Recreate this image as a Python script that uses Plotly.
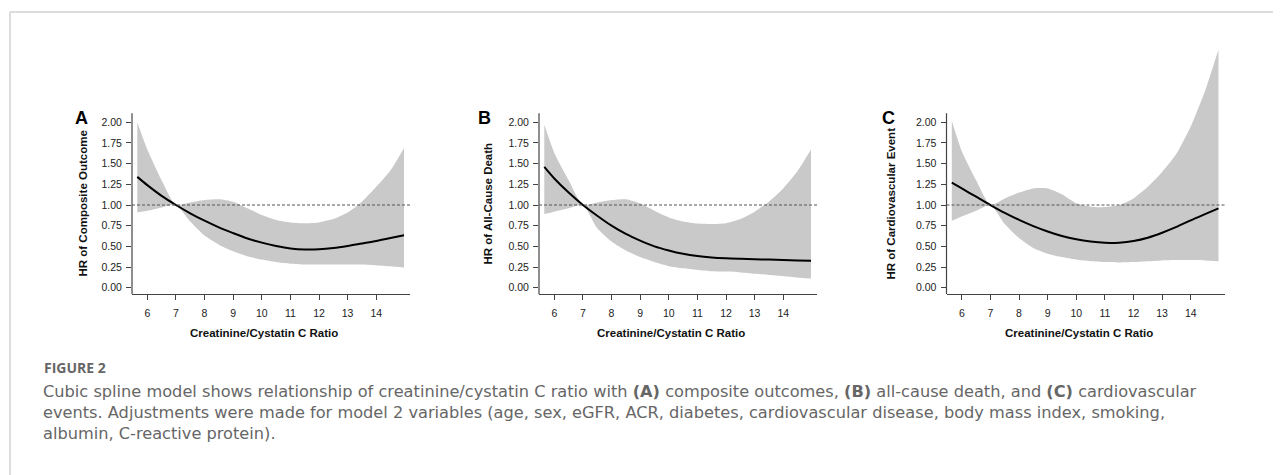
import plotly.graph_objects as go

# ---------------- data ----------------
x_grid = [5.65, 6.0, 6.5, 7.0, 7.5, 8.0, 8.5, 9.0, 9.5, 10.0, 10.5, 11.0,
          11.5, 12.0, 12.5, 13.0, 13.5, 14.0, 14.5, 14.97]

hr_a = [1.34, 1.24, 1.11, 1.00, 0.90, 0.81, 0.73, 0.66, 0.595, 0.545, 0.505, 0.475,
        0.462, 0.465, 0.48, 0.505, 0.535, 0.565, 0.60, 0.635]
up_a = [2.00, 1.67, 1.30, 1.00, 1.03, 1.06, 1.07, 1.04, 0.96, 0.88, 0.82, 0.79,
        0.78, 0.79, 0.83, 0.91, 1.04, 1.22, 1.42, 1.69]
lo_a = [0.91, 0.93, 0.97, 1.00, 0.80, 0.63, 0.52, 0.44, 0.38, 0.34, 0.31, 0.29,
        0.28, 0.28, 0.28, 0.28, 0.28, 0.27, 0.26, 0.245]

hr_b = [1.46, 1.32, 1.15, 1.00, 0.87, 0.75, 0.65, 0.57, 0.50, 0.45, 0.41, 0.383,
        0.366, 0.356, 0.35, 0.345, 0.34, 0.335, 0.33, 0.325]
up_b = [1.97, 1.63, 1.30, 1.00, 1.03, 1.06, 1.07, 1.02, 0.93, 0.85, 0.80, 0.775,
        0.77, 0.78, 0.83, 0.92, 1.04, 1.20, 1.41, 1.67]
lo_b = [0.89, 0.92, 0.96, 1.00, 0.72, 0.56, 0.45, 0.37, 0.31, 0.26, 0.235, 0.215,
        0.20, 0.195, 0.185, 0.17, 0.155, 0.14, 0.125, 0.11]

hr_c = [1.27, 1.20, 1.10, 1.00, 0.905, 0.82, 0.745, 0.68, 0.625, 0.585, 0.558, 0.543,
        0.545, 0.565, 0.605, 0.665, 0.735, 0.815, 0.89, 0.96]
up_c = [2.02, 1.65, 1.30, 1.00, 1.08, 1.15, 1.20, 1.20, 1.13, 1.02, 0.98, 0.975,
        1.00, 1.08, 1.22, 1.40, 1.62, 1.95, 2.38, 2.88]
lo_c = [0.81, 0.86, 0.93, 1.00, 0.77, 0.60, 0.48, 0.41, 0.37, 0.34, 0.32, 0.31,
        0.305, 0.31, 0.32, 0.33, 0.335, 0.335, 0.33, 0.32]

panel_letters = ["A", "B", "C"]
y_titles = ["HR of Composite Outcome", "HR of All-Cause Death", "HR of Cardiovascular Event"]
x_title = "Creatinine/Cystatin C Ratio"
x_ticks = [6, 7, 8, 9, 10, 11, 12, 13, 14]
y_ticks = [0.0, 0.25, 0.5, 0.75, 1.0, 1.25, 1.5, 1.75, 2.0]
y_tick_labels = ["0.00", "0.25", "0.50", "0.75", "1.00", "1.25", "1.50", "1.75", "2.00"]
ref_hr = 1.0

caption_head = "FIGURE 2"
caption_lines = [
    "Cubic spline model shows relationship of creatinine/cystatin C ratio with <b>(A)</b> composite outcomes, <b>(B)</b> all-cause death, and <b>(C)</b> cardiovascular",
    "events. Adjustments were made for model 2 variables (age, sex, eGFR, ACR, diabetes, cardiovascular disease, body mass index, smoking,",
    "albumin, C-reactive protein).",
]

panels = [(hr_a, up_a, lo_a), (hr_b, up_b, lo_b), (hr_c, up_c, lo_c)]

# ---------------- layout helpers ----------------
OFF = 8                 # default body margin of the html page
FW, FH = 1281 - OFF, 475 - OFF

def px_x(p):
    return (p - OFF) / FW

def px_y(p):
    return 1 - (p - OFF) / FH

axis_left_px = [132, 539, 946.5]
panel_w_px = 278
x_range = [5.465, 15.18]
y_range = [-0.076, 3.0]
y_axis_top = 2.11
y_dom = [px_y(294), px_y(39.6)]

AX_FONT = "Liberation Sans, Arial, sans-serif"
CAP_FONT = "DejaVu Sans, sans-serif"
BAND = "#c9c9c9"

fig = go.Figure()
layout = dict(
    width=FW, height=FH,
    margin=dict(l=0, r=0, t=0, b=0),
    paper_bgcolor="white", plot_bgcolor="white",
    showlegend=False,
    shapes=[], annotations=[],
)

for i, (hr, up, lo) in enumerate(panels):
    n = i + 1
    xa = "x" if n == 1 else f"x{n}"
    ya = "y" if n == 1 else f"y{n}"
    fig.add_trace(go.Scatter(
        x=x_grid, y=lo, mode="lines",
        line=dict(width=0, color=BAND, shape="spline", smoothing=0.6),
        hoverinfo="skip", xaxis=xa, yaxis=ya))
    fig.add_trace(go.Scatter(
        x=x_grid, y=up, mode="lines", fill="tonexty", fillcolor=BAND,
        line=dict(width=0, color=BAND, shape="spline", smoothing=0.6),
        hoverinfo="skip", xaxis=xa, yaxis=ya))
    fig.add_trace(go.Scatter(
        x=x_grid, y=hr, mode="lines",
        line=dict(color="#000000", width=2, shape="spline", smoothing=0.8),
        xaxis=xa, yaxis=ya))

    left = axis_left_px[i]
    dom_x = [px_x(left), px_x(left + panel_w_px)]
    layout["xaxis" if n == 1 else f"xaxis{n}"] = dict(
        domain=dom_x, range=x_range, anchor=ya,
        tickvals=x_ticks, ticks="outside", ticklen=5, tickwidth=1, tickcolor="#444",
        ticklabelstandoff=4,
        showline=True, linecolor="#444", linewidth=1.2,
        showgrid=False, zeroline=False,
        tickfont=dict(family=AX_FONT, size=10.5, color="#222"),
    )
    layout["yaxis" if n == 1 else f"yaxis{n}"] = dict(
        domain=y_dom, range=y_range, anchor=xa,
        tickvals=y_ticks, ticktext=y_tick_labels,
        ticks="outside", ticklen=5, tickwidth=1, tickcolor="#444",
        ticklabelstandoff=2,
        showline=False, showgrid=False, zeroline=False,
        tickfont=dict(family=AX_FONT, size=10.5, color="#222"),
    )
    layout["shapes"].append(dict(
        type="line", xref=f"{xa} domain", yref=ya, x0=0, x1=0,
        y0=y_range[0], y1=y_axis_top, line=dict(color="#444", width=1.2)))
    layout["shapes"].append(dict(
        type="line", xref=f"{xa} domain", yref=ya, x0=0, x1=1,
        y0=ref_hr, y1=ref_hr, line=dict(color="#555", width=1.1, dash="3px,2px")))

    letter_x = [81, 484, 888][i]
    layout["annotations"].append(dict(
        text=f"<b>{panel_letters[i]}</b>", x=px_x(letter_x), y=px_y(118),
        xref="paper", yref="paper", showarrow=False, xanchor="center", yanchor="middle",
        font=dict(family=AX_FONT, size=18, color="#000")))
    ytitle_x = [82, 487, 890][i]
    layout["annotations"].append(dict(
        text=f"<b>{y_titles[i]}</b>", x=px_x(ytitle_x), y=px_y(203.5), textangle=-90,
        xref="paper", yref="paper", showarrow=False, xanchor="center", yanchor="middle",
        font=dict(family=AX_FONT, size=11.5, color="#111")))
    layout["annotations"].append(dict(
        text=f"<b>{x_title}</b>", x=px_x(left + 132), y=px_y(333),
        xref="paper", yref="paper", showarrow=False, xanchor="center", yanchor="middle",
        font=dict(family=AX_FONT, size=11.5, color="#111")))

# frame
layout["shapes"].append(dict(type="line", xref="paper", yref="paper",
                             x0=px_x(10), x1=px_x(1290), y0=px_y(12), y1=px_y(12),
                             line=dict(color="#d2d2d2", width=1.5)))
layout["shapes"].append(dict(type="line", xref="paper", yref="paper",
                             x0=px_x(10), x1=px_x(10), y0=px_y(12), y1=px_y(480),
                             line=dict(color="#d2d2d2", width=1.5)))

# caption
layout["annotations"].append(dict(
    text=f"<b>{caption_head}</b>", x=px_x(42), y=px_y(367),
    xref="paper", yref="paper", showarrow=False, xanchor="left", yanchor="middle",
    font=dict(family="Open Sans, sans-serif", size=14, color="#666")))
for k, line in enumerate(caption_lines):
    layout["annotations"].append(dict(
        text=line, x=px_x(41), y=px_y(391 + 21 * k),
        xref="paper", yref="paper", showarrow=False, xanchor="left", yanchor="middle",
        font=dict(family=CAP_FONT, size=16.2, color="#666")))

fig.update_layout(**layout)
fig.write_html("out.html")
